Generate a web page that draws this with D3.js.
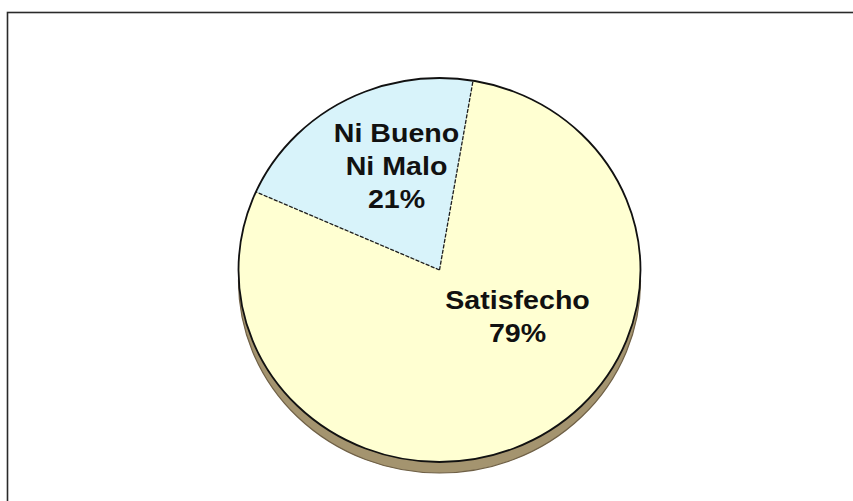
<!DOCTYPE html>
<html>
<head>
<meta charset="utf-8">
<script src="https://cdn.jsdelivr.net/npm/d3@7"></script>
<style>
  html, body { margin: 0; padding: 0; background: #ffffff; }
  svg { display: block; }
</style>
</head>
<body>
<svg id="chart" width="853" height="501"></svg>
<script>
// Survey result: satisfaction share
const categories = ["Satisfecho", "Ni Bueno Ni Malo"];
const values = [79, 21];
const labelLines = [["Satisfecho"], ["Ni Bueno", "Ni Malo"]];
const colors = ["#FFFFD2", "#D8F3FA"];

const W = 853, H = 501;
const svg = d3.select("#chart");

// outer frame (runs past the right and bottom edges)
svg.append("rect")
  .attr("x", 7.5).attr("y", 12.5)
  .attr("width", 900).attr("height", 600)
  .attr("fill", "none")
  .attr("stroke", "#2a2a2a")
  .attr("stroke-width", 1.6);

// pie geometry: slightly tilted disc
const cx = 439.5, cy = 270;
const rx = 201, ry = 192;
const depth = 11;
const tilt = ry / rx;

const pie = d3.pie().sort(null).value(d => d)
  .startAngle(9.6 * Math.PI / 180)
  .endAngle(9.6 * Math.PI / 180 + 2 * Math.PI);
const arcs = pie(values);
const arc = d3.arc().innerRadius(0).outerRadius(rx);

// side band of the disc
const side = svg.append("g")
  .attr("transform", `translate(${cx},${cy + depth}) scale(1,${tilt})`);
const sideGrad = svg.append("defs").append("linearGradient")
  .attr("id", "sideGrad").attr("x1", 0).attr("x2", 0).attr("y1", 0).attr("y2", 1);
sideGrad.append("stop").attr("offset", "0%").attr("stop-color", "#7d6c4c");
sideGrad.append("stop").attr("offset", "100%").attr("stop-color", "#a99a78");
side.append("path")
  .attr("d", d3.arc().innerRadius(0).outerRadius(rx)({startAngle: 0, endAngle: 2 * Math.PI}))
  .attr("fill", "#a4946f")
  .attr("stroke", "#6f6046")
  .attr("stroke-width", 1.2)
  .attr("vector-effect", "non-scaling-stroke");

// top face
const face = svg.append("g")
  .attr("transform", `translate(${cx},${cy}) scale(1,${tilt})`);

face.selectAll("path.slice")
  .data(arcs)
  .join("path")
  .attr("class", "slice")
  .attr("d", arc)
  .attr("fill", (d, i) => colors[i]);

// slice boundaries
face.selectAll("line.edge")
  .data(arcs)
  .join("line")
  .attr("class", "edge")
  .attr("x1", 0).attr("y1", 0)
  .attr("x2", d => rx * Math.sin(d.startAngle))
  .attr("y2", d => -rx * Math.cos(d.startAngle))
  .attr("stroke", "#1e1e1e")
  .attr("stroke-width", 1.3)
  .attr("stroke-dasharray", "4,1.5")
  .attr("vector-effect", "non-scaling-stroke");

// rim of the top face
face.append("path")
  .attr("d", arc({startAngle: 0, endAngle: 2 * Math.PI}))
  .attr("fill", "none")
  .attr("stroke", "#111")
  .attr("stroke-width", 1.8)
  .attr("vector-effect", "non-scaling-stroke");

// data labels
const fmt = v => v + "%";
const labelPos = [
  {x: cx + 78, y: cy + 39},   // Satisfecho
  {x: cx - 43, y: cy - 128}   // Ni Bueno Ni Malo
];
const lineH = 33;

arcs.forEach((d, i) => {
  const lines = labelLines[i].concat([fmt(values[i])]);
  const t = svg.append("text")
    .attr("text-anchor", "middle")
    .attr("font-family", "'Liberation Sans', Arial, sans-serif")
    .attr("font-weight", "bold")
    .attr("font-size", 26)
    .attr("fill", "#111")
    .attr("transform", `translate(${labelPos[i].x},${labelPos[i].y}) scale(1.1,1)`);
  lines.forEach((s, k) => {
    t.append("tspan").attr("x", 0).attr("y", k * lineH).text(s);
  });
});
</script>
</body>
</html>
